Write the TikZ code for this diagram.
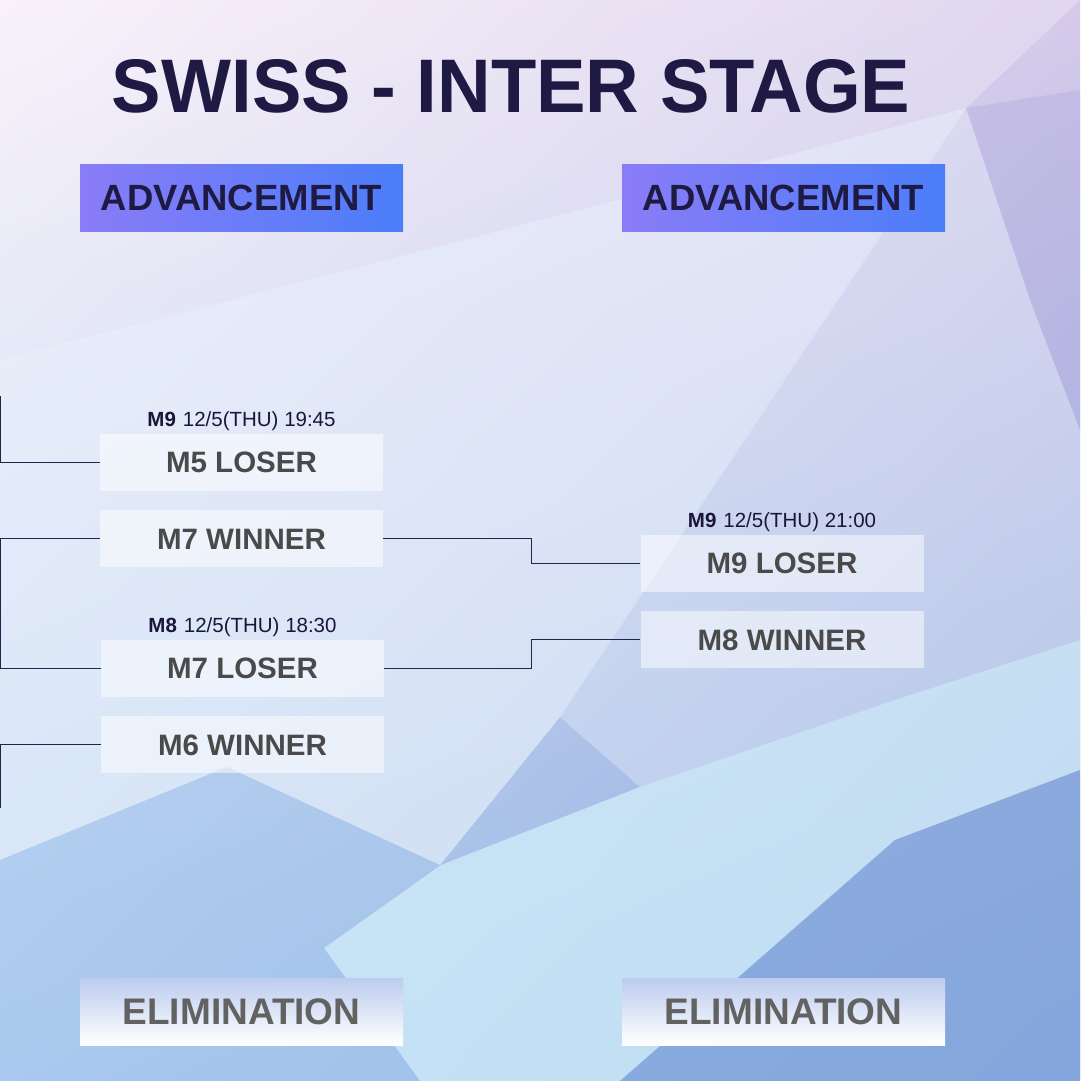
\documentclass[tikz,border=0pt]{standalone}
\usepackage{fontspec}
\setmainfont{Liberation Sans}
\usepackage{graphicx}
\usetikzlibrary{positioning,shadings}

\definecolor{navy}{HTML}{1E1A44}
\definecolor{wirecol}{HTML}{23244A}
\definecolor{boxtext}{HTML}{4A4A4A}
\definecolor{elimtext}{HTML}{626262}
\definecolor{advleft}{HTML}{8A7CF7}
\definecolor{advright}{HTML}{4B7DF9}
\definecolor{elimtop}{HTML}{BCCCEE}
\definecolor{bgUL}{HTML}{F7EEF9}
\definecolor{bgUR}{HTML}{D6CAEA}
\definecolor{bgLL}{HTML}{A9CAEE}
\definecolor{bgLR}{HTML}{84A6DC}
\definecolor{paleblue}{HTML}{EEF5FD}
\definecolor{lilac}{HTML}{ACA8DE}
\definecolor{icecyan}{HTML}{D6F1FB}

\begin{document}
\begin{tikzpicture}[x=1pt, y=-1pt, node distance=19pt,
      title/.style={inner sep=0pt, text=navy, font=\bfseries},
      advbox/.style={left color=advleft, right color=advright, minimum width=323pt, minimum height=67pt,
        inner sep=0pt, text=navy, font=\fontsize{36.5}{36.5}\selectfont\bfseries},
      elimbox/.style={top color=elimtop, bottom color=white, minimum width=323pt, minimum height=67pt,
        inner sep=0pt, text=elimtext, font=\fontsize{37}{37}\selectfont\bfseries},
      matchbox/.style={fill=white, fill opacity=0.5, text opacity=1, minimum width=283pt, minimum height=57pt,
        inner sep=0pt, text=boxtext, font=\fontsize{29.5}{29.5}\selectfont\bfseries},
      timelabel/.style={inner sep=0pt, text=navy!85!black, font=\fontsize{20.5}{20.5}\selectfont},
      wire/.style={draw=wirecol, line width=1pt}]
    % background
    \useasboundingbox (0,0) rectangle (1080,1081);
    \shade[upper left=bgUL, upper right=bgUR, lower left=bgLL, lower right=bgLR] (0,0) rectangle (1080,1081);
    \fill[paleblue, opacity=0.6] (0,360) -- (560,215) -- (966,108) -- (560,717) -- (440,865) -- (227,767) -- (0,860) -- cycle;
    \fill[white, opacity=0.25] (0,0) -- (1080,0) -- (966,108) -- (560,215) -- (0,360) -- cycle;
    \fill[paleblue, opacity=0.35] (966,108) -- (1030,300) -- (1080,430) -- (1080,640) -- (895,700) -- (640,787) -- (560,717) -- cycle;
    \fill[lilac, opacity=0.35] (966,108) -- (1080,90) -- (1080,430) -- (1030,300) -- cycle;
    \fill[icecyan, opacity=0.7] (324,948) -- (441,865) -- (640,787) -- (895,700) -- (1080,640) -- (1080,770)
      -- (895,840) -- (620,1081) -- (420,1081) -- cycle;
    \fill[bgLR, opacity=0.7] (620,1081) -- (895,840) -- (1080,770) -- (1080,1081) -- cycle;
    \fill[bgLL, opacity=0.45] (0,860) -- (227,767) -- (440,865) -- (324,948) -- (420,1081) -- (0,1081) -- cycle;

    \node[title] (ttl) at (511,86.5) {\resizebox{798pt}{53pt}{SWISS - INTER STAGE}};

    \node[advbox] (advl) at (241.5,197.5) {ADVANCEMENT};
    \node[advbox] (advr) at (783.5,197.5) {ADVANCEMENT};
    \node[elimbox] (elml) at (241.5,1011.5) {ELIMINATION};
    \node[elimbox] (elmr) at (783.5,1011.5) {ELIMINATION};

    \node[matchbox] (m5l) at (241.5,462.5) {M5 LOSER};
    \node[matchbox, below=of m5l] (m7w) {M7 WINNER};
    \node[matchbox] (m7l) at (242.5,668.5) {M7 LOSER};
    \node[matchbox, below=of m7l] (m6w) {M6 WINNER};
    \node[matchbox] (m9l) at (782,563.5) {M9 LOSER};
    \node[matchbox, below=of m9l] (m8w) {M8 WINNER};

    \node[timelabel, above=3pt of m5l] (t1945) {\textbf{M9}\hspace{7pt}12/5(THU) 19:45};
    \node[timelabel, above=3pt of m7l] (t1830) {\textbf{M8}\hspace{7pt}12/5(THU) 18:30};
    \node[timelabel, above=3pt of m9l] (t2100) {\textbf{M9}\hspace{7pt}12/5(THU) 21:00};

    % bracket lines
    \coordinate (railL) at (0.5,0);
    \coordinate (railM) at (531,0);
    \coordinate (topend) at (0.5,396);
    \coordinate (botend) at (0.5,808);
    \draw[wire] (topend) |- (m5l.west);
    \draw[wire] (m7w.west) -- (m7w.west -| railL) -- (m7l.west -| railL) -- (m7l.west);
    \draw[wire] (m6w.west) -| (botend);
    \draw[wire] (m7w.east) -- (m7w.east -| railM) |- (m9l.west);
    \draw[wire] (m7l.east) -- (m7l.east -| railM) |- (m8w.west);
  \end{tikzpicture}
\end{document}
